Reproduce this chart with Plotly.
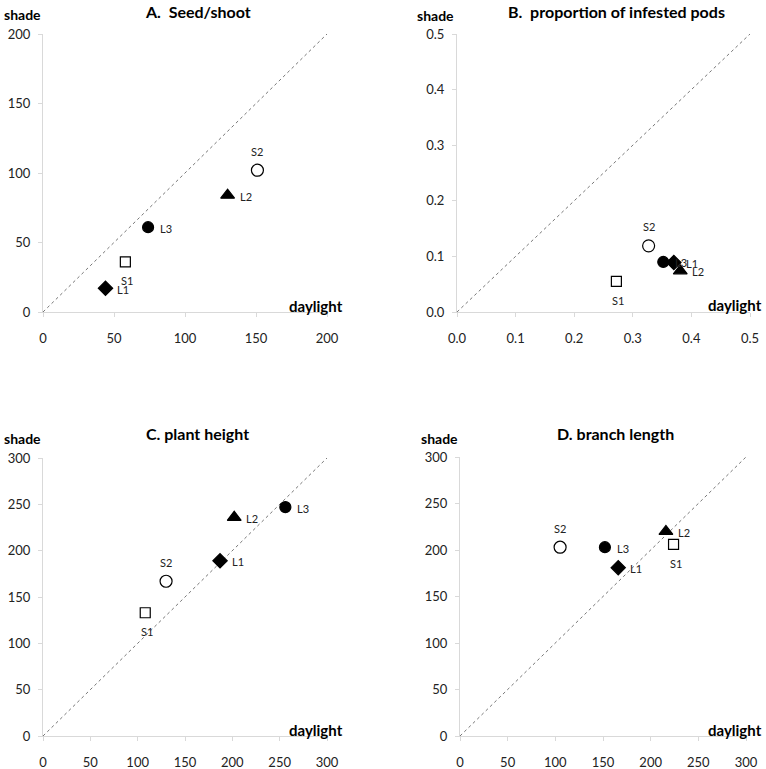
import plotly.graph_objects as go

W, H = 766, 769

genotypes = ["L1", "L2", "L3", "S1", "S2"]
symbols = {"L1": "diamond", "L2": "triangle-up", "L3": "circle", "S1": "square-open", "S2": "circle-open"}
sizes = {"L1": 11, "L2": 12, "L3": 11, "S1": 10, "S2": 12}
label_side = {"L1": "right", "L2": "right", "L3": "right", "S1": "below", "S2": "above"}
draw_order = ["S1", "S2", "L3", "L1", "L2"]

titles = ["A.\u00a0\u00a0Seed/shoot", "B.\u00a0\u00a0proportion of infested pods", "C. plant height", "D. branch length"]

# daylight (x) and shade (y) values per genotype, order L1, L2, L3, S1, S2
seed_daylight = [44, 130, 74, 58, 151]
seed_shade = [17, 84, 61, 36, 102]
pods_daylight = [0.370, 0.381, 0.352, 0.272, 0.327]
pods_shade = [0.089, 0.074, 0.090, 0.055, 0.119]
height_daylight = [187, 202, 256, 108, 130]
height_shade = [189, 236, 247, 133, 167]
branch_daylight = [166, 216, 152, 224, 105]
branch_shade = [181, 220, 203, 206, 203]

panels = [
    dict(x=seed_daylight, y=seed_shade, rng=[0, 200], dtick=50, fmt=""),
    dict(x=pods_daylight, y=pods_shade, rng=[0, 0.5], dtick=0.1, fmt=".1f"),
    dict(x=height_daylight, y=height_shade, rng=[0, 300], dtick=50, fmt=""),
    dict(x=branch_daylight, y=branch_shade, rng=[0, 300], dtick=50, fmt=""),
]

# plot area pixel boxes (left, right, top, bottom)
boxes = [(43, 327, 34, 312), (457, 750, 34, 312), (43, 327, 458, 736), (460, 746, 457, 736)]
title_pos = [(198, 12), (616, 12), (197, 434), (615, 434)]
shade_pos = [(22, 14), (435, 16), (22, 438), (439, 438)]
day_pos = [(316, 306), (735, 305), (316, 730), (735, 730)]

FONT = "Lato"
fig = go.Figure()
annotations = []

for i, p in enumerate(panels):
    n = "" if i == 0 else str(i + 1)
    xa, ya = "x" + n, "y" + n
    l, r, t, b = boxes[i]
    axis_common = dict(
        range=p["rng"], dtick=p["dtick"], tickformat=p["fmt"], showline=True,
        linecolor="#d9d9d9", linewidth=1, ticks="outside", ticklen=4, tickcolor="#d9d9d9",
        showgrid=False, zeroline=False, tickfont=dict(family=FONT, size=13, color="#222"),
        fixedrange=True, automargin=False,
    )
    fig.layout["xaxis" + n] = dict(axis_common, domain=[l / W, r / W], anchor=ya, ticklabelstandoff=10)
    fig.layout["yaxis" + n] = dict(axis_common, domain=[1 - b / H, 1 - t / H], anchor=xa, ticklabelstandoff=5)

    # 1:1 line
    fig.add_trace(go.Scatter(x=p["rng"], y=p["rng"], mode="lines", xaxis=xa, yaxis=ya,
                             line=dict(color="#777", width=1, dash="dot"), hoverinfo="skip",
                             showlegend=False))
    for g in draw_order:
        k = genotypes.index(g)
        fig.add_trace(go.Scatter(
            x=[p["x"][k]], y=[p["y"][k]], mode="markers", xaxis=xa, yaxis=ya, showlegend=False,
            marker=dict(symbol=symbols[g], size=sizes[g],
                        color="black", line=dict(color="black", width=1.2)),
        ))
        side = label_side[g]
        if side == "right":
            kw = dict(xanchor="left", yanchor="middle", xshift=10, yshift=-1)
        elif side == "above":
            kw = dict(xanchor="center", yanchor="middle", yshift=19)
        else:
            kw = dict(xanchor="center", yanchor="middle", xshift=2, yshift=-19)
        annotations.append(dict(x=p["x"][k], y=p["y"][k], xref=xa, yref=ya, text=g, showarrow=False,
                                font=dict(family=FONT, size=11, color="#222"), **kw))

    tx, ty = title_pos[i]
    annotations.append(dict(x=tx / W, y=1 - ty / H, xref="paper", yref="paper", text="<b>" + titles[i] + "</b>",
                            showarrow=False, xanchor="center", yanchor="middle",
                            font=dict(family=FONT, size=16, color="black")))
    sx, sy = shade_pos[i]
    annotations.append(dict(x=sx / W, y=1 - sy / H, xref="paper", yref="paper", text="<b>shade</b>",
                            showarrow=False, xanchor="center", yanchor="middle",
                            font=dict(family=FONT, size=14, color="black")))
    dx, dy = day_pos[i]
    annotations.append(dict(x=dx / W, y=1 - dy / H, xref="paper", yref="paper", text="<b>daylight</b>",
                            showarrow=False, xanchor="center", yanchor="middle",
                            font=dict(family=FONT, size=15, color="black")))

fig.update_layout(width=W, height=H, margin=dict(l=0, r=0, t=0, b=0, autoexpand=False),
                  paper_bgcolor="white", plot_bgcolor="white", annotations=annotations, showlegend=False)

fig.write_html("out.html", config={"displayModeBar": False},
               post_script="document.body.style.margin='0';document.body.style.overflow='hidden';")
